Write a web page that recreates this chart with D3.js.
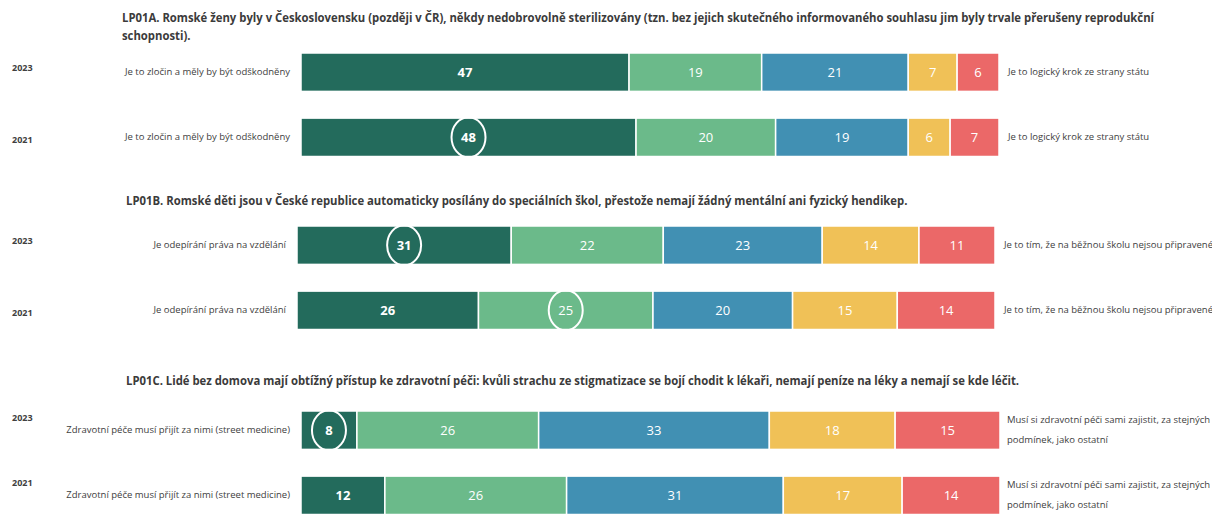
<!DOCTYPE html>
<html lang="cs">
<head>
  <meta charset="UTF-8">
  <title>LP01 – postoje</title>
  <script src="https://d3js.org/d3.v7.min.js"></script>
  <style>
    body { margin: 0; background: #fff; }
    svg { display: block; font-family: "Open Sans", sans-serif; }
    .title { font-size: 13px; font-weight: bold; fill: #3b3b3b; }
    .year { font-size: 9px; font-weight: bold; fill: #404040; }
    .side { font-size: 9.5px; fill: #404040; }
    .val { font-size: 13px; fill: #fff; }
  </style>
</head>
<body>
<svg id="chart" width="1212" height="514"></svg>
<script>
// data
const years = ["2023", "2021"];
const segmentKeys = ["s1", "s2", "s3", "s4", "s5"];
const segmentColors = ["#236b5c", "#6bba8a", "#4190b3", "#f0c157", "#eb6868"];

const titlesA = [
  "LP01A. Romské ženy byly v Československu (později v ČR), někdy nedobrovolně sterilizovány (tzn. bez jejich skutečného informovaného souhlasu jim byly trvale přerušeny reprodukční",
  "schopnosti)."
];
const titlesB = ["LP01B. Romské děti jsou v České republice automaticky posílány do speciálních škol, přestože nemají žádný mentální ani fyzický hendikep."];
const titlesC = ["LP01C. Lidé bez domova mají obtížný přístup ke zdravotní péči: kvůli strachu ze stigmatizace se bojí chodit k lékaři, nemají peníze na léky a nemají se kde léčit."];

const valuesA = [[47, 19, 21, 7, 6], [48, 20, 19, 6, 7]];
const valuesB = [[31, 22, 23, 14, 11], [26, 25, 20, 15, 14]];
const valuesC = [[8, 26, 33, 18, 15], [12, 26, 31, 17, 14]];

const leftA = "Je to zločin a měly by být odškodněny";
const rightA = ["Je to logický krok ze strany státu"];
const leftB = "Je odepírání práva na vzdělání";
const rightB = ["Je to tím, že na běžnou školu nejsou připravené"];
const leftC = "Zdravotní péče musí přijít za nimi (street medicine)";
const rightC = ["Musí si zdravotní péči sami zajistit, za stejných", "podmínek, jako ostatní"];

// index of the circled segment per year row (null = none)
const circledA = [null, 0];
const circledB = [0, 1];
const circledC = [0, null];

// layout of the three panels
const panels = [
  { titles: titlesA, values: valuesA, left: leftA, right: rightA, circled: circledA,
    titleX: 122, titleY: 22, x0: 301, x1: 999, top: 53, rightX: 1008 },
  { titles: titlesB, values: valuesB, left: leftB, right: rightB, circled: circledB,
    titleX: 126, titleY: 205, x0: 297, x1: 995, top: 226, rightX: 1004 },
  { titles: titlesC, values: valuesC, left: leftC, right: rightC, circled: circledC,
    titleX: 126, titleY: 385, x0: 301, x1: 1000, top: 411, rightX: 1007 }
];

const svg = d3.select("#chart");
const color = d3.scaleOrdinal().domain(segmentKeys).range(segmentColors);

panels.forEach(p => {
  const g = svg.append("g");

  // titles: condensed a bit, the original font is narrower
  g.selectAll(".title")
    .data(p.titles)
    .join("text")
    .attr("class", "title")
    .attr("x", p.titleX)
    .attr("y", (d, i) => p.titleY + i * 18)
    .text(d => d)
    .each(function() {
      const w = this.getComputedTextLength();
      d3.select(this).attr("textLength", w * 0.87).attr("lengthAdjust", "spacingAndGlyphs");
    });

  const y = d3.scaleBand().domain(years).range([p.top, p.top + 103.5]).paddingInner(0.41);

  p.values.forEach((vals, r) => {
    const total = d3.sum(vals);
    const x = d3.scaleLinear().domain([0, total]).range([p.x0, p.x1]);
    const rows = vals.map((v, i) => ({
      key: segmentKeys[i], value: v, idx: i,
      start: d3.sum(vals.slice(0, i)), end: d3.sum(vals.slice(0, i + 1))
    }));
    const yr = years[r];
    const by = y(yr), bh = y.bandwidth(), cy = by + bh / 2;

    g.append("text")
      .attr("class", "year")
      .attr("x", 12)
      .attr("y", cy + (p === panels[2] ? -9 : (r === 0 ? -1 : 6)))
      .text(yr);

    g.append("text")
      .attr("class", "side")
      .attr("x", p.x0 - 11)
      .attr("y", cy + 3)
      .attr("text-anchor", "end")
      .text(p.left);

    g.selectAll(null)
      .data(p.right)
      .join("text")
      .attr("class", "side")
      .attr("x", p.rightX)
      .attr("y", (d, i) => (p.right.length > 1 ? cy - 7 : cy + 3) + i * 20)
      .text(d => d);

    g.selectAll(null)
      .data(rows)
      .join("rect")
      .attr("x", d => x(d.start))
      .attr("y", by)
      .attr("width", d => x(d.end) - x(d.start))
      .attr("height", bh)
      .attr("fill", d => color(d.key))
      .attr("stroke", "#fff")
      .attr("stroke-width", 1.5);

    g.selectAll(null)
      .data(rows)
      .join("text")
      .attr("class", "val")
      .attr("x", d => (x(d.start) + x(d.end)) / 2)
      .attr("y", cy + 5)
      .attr("text-anchor", "middle")
      .attr("font-weight", d => d.idx === 0 ? "bold" : "normal")
      .text(d => d.value);

    const c = p.circled[r];
    if (c !== null) {
      const d = rows[c];
      g.append("ellipse")
        .attr("cx", (x(d.start) + x(d.end)) / 2)
        .attr("cy", cy)
        .attr("rx", 17)
        .attr("ry", 20)
        .attr("fill", "none")
        .attr("stroke", "#fff")
        .attr("stroke-width", 2);
    }
  });
});
</script>
</body>
</html>
